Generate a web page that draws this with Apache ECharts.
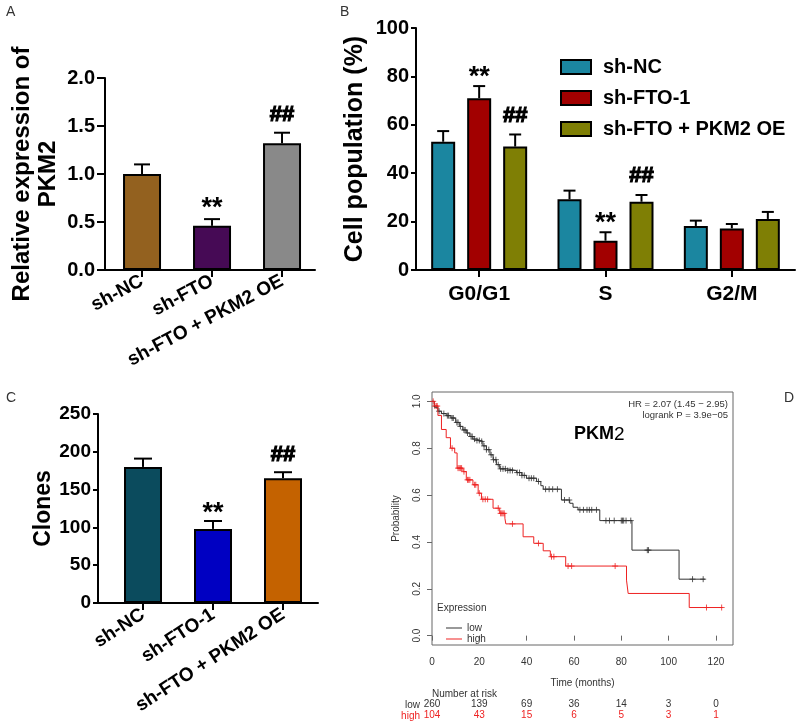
<!DOCTYPE html>
<html><head><meta charset="utf-8">
<script src="https://cdn.jsdelivr.net/npm/echarts@6/dist/echarts.min.js"></script>
<style>html,body{margin:0;padding:0;background:#fff}#c{width:800px;height:726px}</style>
</head><body><div id="c"></div>
<script>
// ---------- Panel A ----------
const catsA = ['sh-NC', 'sh-FTO', 'sh-FTO + PKM2 OE'];
const valsA = [1.00, 0.46, 1.32];
const errTopA = [1.10, 0.53, 1.43];
const marksA = ['', '**', '##'];
const colorsA = ['#93611f', '#460a55', '#898989'];

// ---------- Panel B ----------
const phasesB = ['G0/G1', 'S', 'G2/M'];
const groupsB = ['sh-NC', 'sh-FTO-1', 'sh-FTO + PKM2 OE'];
const shNC_B = [53.0, 29.2, 18.2];
const shNC_Berr = [57.4, 32.8, 20.4];
const shFTO_B = [71.0, 12.1, 17.2];
const shFTO_Berr = [76.0, 15.6, 19.0];
const shPKM_B = [51.0, 28.2, 21.1];
const shPKM_Berr = [56.0, 31.0, 24.0];
const marksB = [['', '', ''], ['**', '**', ''], ['##', '##', '']];
const colorsB = ['#1b86a0', '#a20000', '#7f7f05'];

// ---------- Panel C ----------
const catsC = ['sh-NC', 'sh-FTO-1', 'sh-FTO + PKM2 OE'];
const valsC = [180, 98, 165];
const errTopC = [191, 108.5, 173];
const marksC = ['', '**', '##'];
const colorsC = ['#0b4b5d', '#0000c2', '#c46200'];

// ---------- Panel D (Kaplan-Meier) ----------
const lowT = [0, 1, 2.5, 4, 6, 8, 10, 11.7, 13, 14.5, 16, 17.3, 19, 20.2, 21.5, 23, 24.5, 25.8, 27.2, 28.6, 31.5, 35.7, 38, 39.9, 44.2, 46, 47, 54.7, 58.2, 59.6, 61.7, 70.9, 84.5, 104.4, 115.4];
const lowS = [1.0, 0.975, 0.958, 0.948, 0.939, 0.929, 0.91, 0.893, 0.878, 0.865, 0.85, 0.839, 0.833, 0.829, 0.81, 0.794, 0.772, 0.751, 0.73, 0.712, 0.705, 0.696, 0.684, 0.672, 0.658, 0.64, 0.625, 0.579, 0.565, 0.548, 0.537, 0.491, 0.365, 0.241, 0.241];
const highT = [0, 1, 2.5, 4, 6, 7.8, 9.6, 10.6, 13.1, 14.5, 17.3, 19.5, 20.9, 25.8, 28.6, 30.8, 31.2, 38.5, 43, 47, 50, 56.5, 82.2, 82.9, 108.7, 122.8];
const highS = [1.0, 0.98, 0.94, 0.88, 0.845, 0.80, 0.78, 0.715, 0.70, 0.665, 0.644, 0.608, 0.582, 0.544, 0.522, 0.501, 0.477, 0.422, 0.394, 0.362, 0.337, 0.297, 0.237, 0.18, 0.12, 0.12];
const lowCensor = [3, 5, 6.5, 7, 8.5, 9, 10.5, 11, 12, 13.5, 14, 15, 16.5, 17, 18, 19, 20, 21, 22, 23, 24, 25, 26, 27, 28, 29, 30, 31, 32, 33, 34, 36, 37, 38, 39, 41, 42, 43, 45, 48, 49.5, 51, 53, 56, 58, 62.5, 64, 65.5, 66.5, 67.5, 69.5, 73.5, 75, 77, 80, 80.5, 81, 82, 84, 91, 91.5, 110.1, 114.6];
const highCensor = [0.5, 1.2, 1.8, 2.2, 8.5, 11, 11.5, 12, 12.5, 13.5, 15, 15.5, 16, 18, 18.5, 20, 21.5, 22.5, 23.5, 28, 29, 29.5, 30, 30.5, 34, 45, 50.5, 51.5, 57.5, 59, 77.4, 116, 122.4];
const timeTicks = [0, 20, 40, 60, 80, 100, 120];
const probTicks = [0, 0.2, 0.4, 0.6, 0.8, 1.0];
const atRiskLow = [260, 139, 69, 36, 14, 3, 0];
const atRiskHigh = [104, 43, 15, 6, 5, 3, 1];

const FN = 'Liberation Sans';
const F = 'Liberation Sans, Arial, sans-serif';

function stepAt(ts, ss, t) {
  let v = ss[0];
  for (let i = 0; i < ts.length; i++) { if (ts[i] <= t) v = ss[i]; }
  return v;
}

function errRender(marks, xOffset, capHalf, starOff, hashOff, starSize, hashSize) {
  return function (params, api) {
    const idx = params.dataIndex;
    const xv = api.value(0);
    const base = api.coord([xv, api.value(1)]);
    const top = api.coord([xv, api.value(2)]);
    const x = base[0] + xOffset;
    const ch = [
      {type: 'line', shape: {x1: x, y1: base[1], x2: x, y2: top[1]}, style: {stroke: '#000', lineWidth: 2}},
      {type: 'line', shape: {x1: x - capHalf, y1: top[1], x2: x + capHalf, y2: top[1]}, style: {stroke: '#000', lineWidth: 2}}
    ];
    const m = marks[idx];
    if (m) {
      const star = m === '**';
      ch.push({type: 'text', style: {
        text: m, x: x, y: top[1] - (star ? starOff : hashOff),
        align: 'center', verticalAlign: 'middle', fill: '#000',
        stroke: star ? null : '#000', lineWidth: star ? 0 : 1.2,
        font: 'bold ' + (star ? starSize : hashSize) + 'px "' + FN + '"'
      }});
    }
    return {type: 'group', children: ch};
  };
}

const axisBlack = {show: true, onZero: false, lineStyle: {color: '#000', width: 2}};
const tickBlack = {show: true, length: 7, lineStyle: {color: '#000', width: 2}};

const option = {
  animation: false,
  backgroundColor: '#fff',
  textStyle: {fontFamily: F},
  grid: [
    {left: 105, top: 78, width: 210, height: 192},
    {left: 416, top: 28, width: 379, height: 242},
    {left: 98, top: 414, width: 220, height: 189},
    {left: 432, top: 392, width: 301, height: 253, show: true, borderColor: '#666', borderWidth: 1, backgroundColor: 'transparent'}
  ],
  legend: [
    {data: groupsB, orient: 'vertical', left: 555, top: 52, itemWidth: 30, itemHeight: 14, itemGap: 11, icon: 'rect',
     textStyle: {fontSize: 20, fontWeight: 'bold', color: '#000', fontFamily: F, lineHeight: 20, padding: [0, 0, 0, 7]}},
    {data: ['low', 'high'], orient: 'vertical', left: 441, top: 618, itemWidth: 16, itemHeight: 1, itemGap: 1, icon: 'rect',
     textStyle: {fontSize: 10, color: '#333', fontFamily: F, lineHeight: 10}}
  ],
  xAxis: [
    {gridIndex: 0, type: 'value', min: -0.529, max: 2.471, axisLine: axisBlack, splitLine: {show: false},
     axisTick: Object.assign({customValues: [0, 1, 2]}, tickBlack),
     axisLabel: {customValues: [0, 1, 2], rotate: 28, margin: 10, fontSize: 19, fontWeight: 'bold', color: '#000',
       formatter: v => catsA[Math.round(v)]}},
    {gridIndex: 1, type: 'category', data: phasesB, axisLine: axisBlack,
     axisTick: Object.assign({alignWithLabel: true}, tickBlack),
     axisLabel: {margin: 14, fontSize: 21, fontWeight: 'bold', color: '#000'}},
    {gridIndex: 2, type: 'value', min: -0.643, max: 2.5, axisLine: axisBlack, splitLine: {show: false},
     axisTick: Object.assign({customValues: [0, 1, 2]}, tickBlack),
     axisLabel: {customValues: [0, 1, 2], rotate: 33, margin: 10, fontSize: 19, fontWeight: 'bold', color: '#000',
       formatter: v => catsC[Math.round(v)]}},
    {gridIndex: 3, type: 'value', min: 0, max: 127.2, axisLine: {show: false}, splitLine: {show: false},
     axisTick: {show: true, customValues: timeTicks, length: 5, lineStyle: {color: '#666', width: 1}},
     axisLabel: {customValues: timeTicks, margin: 12, fontSize: 10, color: '#333'},
     name: 'Time (months)', nameLocation: 'middle', nameGap: 33, nameTextStyle: {fontSize: 10, color: '#333'}},
    {gridIndex: 3, type: 'value', min: 0, max: 127.2, position: 'bottom', offset: 54, axisLine: {show: false},
     axisTick: {show: false}, splitLine: {show: false},
     axisLabel: {customValues: timeTicks, margin: 0, fontSize: 10, color: '#333', formatter: v => String(atRiskLow[Math.round(v / 20)])}},
    {gridIndex: 3, type: 'value', min: 0, max: 127.2, position: 'bottom', offset: 65, axisLine: {show: false},
     axisTick: {show: false}, splitLine: {show: false},
     axisLabel: {customValues: timeTicks, margin: 0, fontSize: 10, color: '#ee2222', formatter: v => String(atRiskHigh[Math.round(v / 20)])}}
  ],
  yAxis: [
    {gridIndex: 0, type: 'value', min: 0, max: 2, interval: 0.5, axisLine: axisBlack, splitLine: {show: false},
     axisTick: {show: true, length: 8, lineStyle: {color: '#000', width: 2}},
     axisLabel: {margin: 10, fontSize: 20, fontWeight: 'bold', color: '#000', formatter: v => v.toFixed(1)},
     name: 'Relative expression of\nPKM2', nameLocation: 'middle', nameGap: 44,
     nameTextStyle: {fontSize: 24, fontWeight: 'bold', color: '#000', lineHeight: 26}},
    {gridIndex: 1, type: 'value', min: 0, max: 100, interval: 20, axisLine: axisBlack, splitLine: {show: false},
     axisTick: {show: true, length: 5, lineStyle: {color: '#000', width: 2}},
     axisLabel: {margin: 7, fontSize: 20, fontWeight: 'bold', color: '#000'},
     name: 'Cell population (%)', nameLocation: 'middle', nameGap: 48,
     nameTextStyle: {fontSize: 25, fontWeight: 'bold', color: '#000'}},
    {gridIndex: 2, type: 'value', min: 0, max: 250, interval: 50, axisLine: axisBlack, splitLine: {show: false},
     axisTick: {show: true, length: 5, lineStyle: {color: '#000', width: 2}},
     axisLabel: {margin: 7, fontSize: 19, fontWeight: 'bold', color: '#000'},
     name: 'Clones', nameLocation: 'middle', nameGap: 40,
     nameTextStyle: {fontSize: 23, fontWeight: 'bold', color: '#000'}},
    {gridIndex: 3, type: 'value', min: -0.04, max: 1.04, axisLine: {show: false}, splitLine: {show: false},
     axisTick: {show: true, customValues: probTicks, length: 5, lineStyle: {color: '#666', width: 1}},
     axisLabel: {customValues: probTicks, rotate: 90, margin: 10, fontSize: 10, color: '#333', formatter: v => v.toFixed(1)},
     name: 'Probability', nameLocation: 'middle', nameGap: 31, nameTextStyle: {fontSize: 10, color: '#333'}}
  ],
  series: [
    // Panel A
    {name: 'panelA', type: 'bar', xAxisIndex: 0, yAxisIndex: 0, barWidth: 38,
     itemStyle: {borderColor: '#000', borderWidth: 2},
     data: valsA.map((v, i) => ({value: [i, v], itemStyle: {color: colorsA[i]}}))},
    {name: 'panelAerr', type: 'custom', xAxisIndex: 0, yAxisIndex: 0, z: 5, clip: false,
     data: valsA.map((v, i) => [i, v, errTopA[i]]),
     renderItem: errRender(marksA, 0, 8, 11, 18, 27, 22)},
    // Panel B
    ...[shNC_B, shFTO_B, shPKM_B].map((arr, s) => ({
      name: groupsB[s], type: 'bar', xAxisIndex: 1, yAxisIndex: 1, barWidth: 24, barGap: '50%',
      itemStyle: {color: colorsB[s], borderColor: '#000', borderWidth: 2}, data: arr
    })),
    ...[[shNC_B, shNC_Berr], [shFTO_B, shFTO_Berr], [shPKM_B, shPKM_Berr]].map((pair, s) => ({
      name: 'errB' + s, type: 'custom', xAxisIndex: 1, yAxisIndex: 1, z: 5, clip: false,
      data: pair[0].map((v, i) => [i, v, pair[1][i]]),
      renderItem: errRender(marksB[s], (s - 1) * 36, 6, 9, 19, 27, 22)
    })),
    // Panel C
    {name: 'panelC', type: 'bar', xAxisIndex: 2, yAxisIndex: 2, barWidth: 38,
     itemStyle: {borderColor: '#000', borderWidth: 2},
     data: valsC.map((v, i) => ({value: [i, v], itemStyle: {color: colorsC[i]}}))},
    {name: 'panelCerr', type: 'custom', xAxisIndex: 2, yAxisIndex: 2, z: 5, clip: false,
     data: valsC.map((v, i) => [i, v, errTopC[i]]),
     renderItem: errRender(marksC, 0, 9, 7, 17, 27, 22)},
    // Panel D
    {name: 'low', type: 'line', xAxisIndex: 3, yAxisIndex: 3, step: 'end', symbol: 'none',
     lineStyle: {color: '#333', width: 1}, itemStyle: {color: '#333'},
     data: lowT.map((t, i) => [t, lowS[i]])},
    {name: 'high', type: 'line', xAxisIndex: 3, yAxisIndex: 3, step: 'end', symbol: 'none',
     lineStyle: {color: '#ee2222', width: 1}, itemStyle: {color: '#ee2222'},
     data: highT.map((t, i) => [t, highS[i]])},
    {name: 'lowCens', type: 'scatter', xAxisIndex: 3, yAxisIndex: 3, symbol: 'path://M5,0L5,10M0,5L10,5', symbolSize: 6,
     itemStyle: {color: 'none', borderColor: '#333', borderWidth: 1},
     data: lowCensor.map(t => [t, stepAt(lowT, lowS, t)])},
    {name: 'highCens', type: 'scatter', xAxisIndex: 3, yAxisIndex: 3, symbol: 'path://M5,0L5,10M0,5L10,5', symbolSize: 6,
     itemStyle: {color: 'none', borderColor: '#ee2222', borderWidth: 1},
     data: highCensor.map(t => [t, stepAt(highT, highS, t)])}
  ],
  graphic: [
    {type: 'text', left: 6, top: 5, style: {text: 'A', fontSize: 14, fill: '#333', fontFamily: F}},
    {type: 'text', left: 340, top: 5, style: {text: 'B', fontSize: 14, fill: '#333', fontFamily: F}},
    {type: 'text', left: 6, top: 391, style: {text: 'C', fontSize: 14, fill: '#333', fontFamily: F}},
    {type: 'text', left: 784, top: 391, style: {text: 'D', fontSize: 14, fill: '#333', fontFamily: F}},
    {type: 'text', right: 72, top: 399, style: {text: 'HR = 2.07 (1.45 \u2212 2.95)', fontSize: 9.5, fill: '#333', fontFamily: F, align: 'right'}},
    {type: 'text', right: 72, top: 410, style: {text: 'logrank P = 3.9e\u221205', fontSize: 9.5, fill: '#333', fontFamily: F, align: 'right'}},
    {type: 'text', left: 574, top: 425, style: {text: '{b|PKM}{n|2}', fontFamily: F,
      rich: {b: {fontSize: 18, fontWeight: 'bold', fill: '#000', fontFamily: F}, n: {fontSize: 19, fill: '#000', fontFamily: F}}}},
    {type: 'text', left: 437, top: 603, style: {text: 'Expression', fontSize: 10, fill: '#333', fontFamily: F}},
    {type: 'text', left: 432, top: 689, style: {text: 'Number at risk', fontSize: 10, fill: '#333', fontFamily: F}},
    {type: 'text', right: 380, top: 700, style: {text: 'low', fontSize: 10, fill: '#333', fontFamily: F, align: 'right'}},
    {type: 'text', right: 380, top: 711, style: {text: 'high', fontSize: 10, fill: '#ee2222', fontFamily: F, align: 'right'}}
  ]
};

const chart = echarts.init(document.getElementById('c'), null, {renderer: 'canvas'});
chart.setOption(option);
</script>
</body></html>
